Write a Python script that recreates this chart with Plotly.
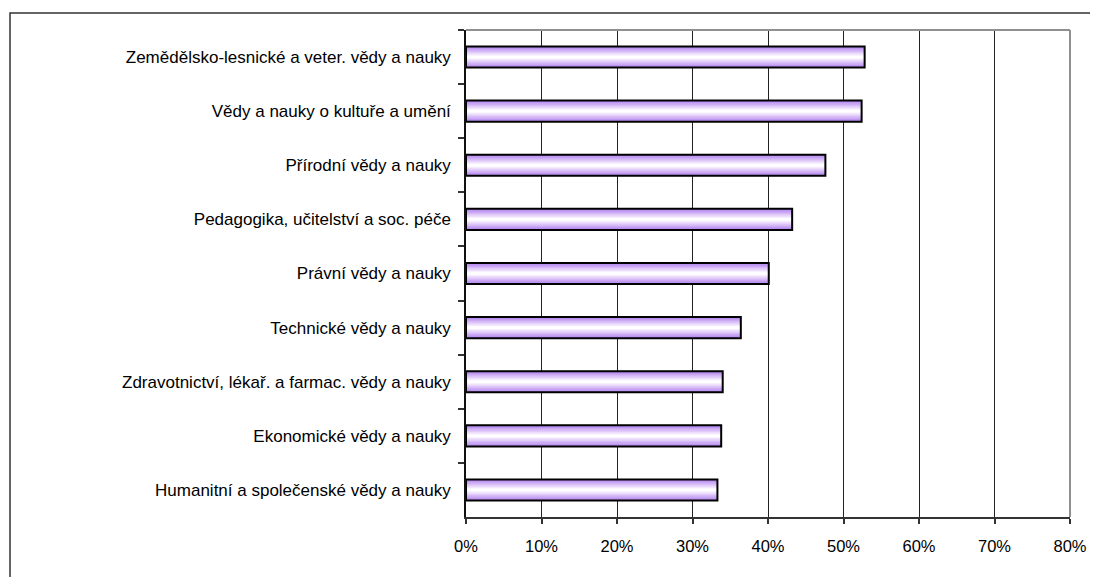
import plotly.graph_objects as go

categories = [
    "Zemědělsko-lesnické a veter. vědy a nauky",
    "Vědy a nauky o kultuře a umění",
    "Přírodní vědy a nauky",
    "Pedagogika, učitelství a soc. péče",
    "Právní vědy a nauky",
    "Technické vědy a nauky",
    "Zdravotnictví, lékař. a farmac. vědy a nauky",
    "Ekonomické vědy a nauky",
    "Humanitní a společenské vědy a nauky",
]
values = [0.528, 0.524, 0.476, 0.432, 0.401, 0.364, 0.340, 0.338, 0.333]
tick_vals = [0, 0.1, 0.2, 0.3, 0.4, 0.5, 0.6, 0.7, 0.8]
tick_text = ["0%", "10%", "20%", "30%", "40%", "50%", "60%", "70%", "80%"]

# gradient layers (outer purple -> inner white)
layer_widths = [0.39, 0.34, 0.29, 0.24, 0.19, 0.14, 0.09, 0.05]
layer_colors = ["#B387EE", "#BE97F1", "#CAA8F4", "#D6BAF7", "#E2CCF9", "#EDDFFC", "#F6EFFE", "#FFFFFF"]

fig = go.Figure()
for w, c in zip(layer_widths, layer_colors):
    fig.add_trace(go.Bar(
        x=values, y=categories, orientation="h", width=w,
        marker=dict(color=c, line=dict(width=0)),
        hoverinfo="skip", showlegend=False,
    ))
fig.add_trace(go.Bar(
    x=values, y=categories, orientation="h", width=layer_widths[0],
    marker=dict(color="rgba(0,0,0,0)", line=dict(color="#000000", width=2)),
    showlegend=False,
))

L, R, T, B = 458, 36, 22, 68
pw = 1098 - L - R
ph = 577 - T - B

fig.update_layout(
    width=1098, height=577,
    barmode="overlay",
    paper_bgcolor="white", plot_bgcolor="white",
    margin=dict(l=L, r=R, t=T, b=B),
    font=dict(family="Liberation Sans, Arial, sans-serif", size=17, color="#000000"),
    xaxis=dict(
        range=[0, 0.8], tickvals=tick_vals, ticktext=tick_text,
        tickfont=dict(size=16.5),
        showgrid=True, gridcolor="#222222", gridwidth=1,
        ticks="outside", ticklen=5, tickcolor="#333333", tickwidth=1.5,
        showline=True, linecolor="#333333", linewidth=1.5,
        zeroline=False, ticklabelstandoff=8,
    ),
    yaxis=dict(
        autorange="reversed", tickson="boundaries",
        ticks="outside", ticklen=6, tickcolor="#333333", tickwidth=1.5,
        showline=True, linecolor="#111111", linewidth=1.5,
        showgrid=False, zeroline=False, ticklabelstandoff=10,
    ),
    shapes=[
        dict(type="line", xref="paper", yref="paper", x0=0, x1=1, y0=1, y1=1,
             line=dict(color="#909090", width=2)),
        dict(type="line", xref="paper", yref="paper", x0=1, x1=1, y0=0, y1=1,
             line=dict(color="#909090", width=2)),
        dict(type="rect", xref="paper", yref="paper",
             x0=(2 - L) / pw, x1=1.2, y0=-0.3, y1=(577 - B - 5) / ph,
             line=dict(color="#333333", width=1.5), fillcolor="rgba(0,0,0,0)"),
    ],
)

fig.write_html("out.html")
